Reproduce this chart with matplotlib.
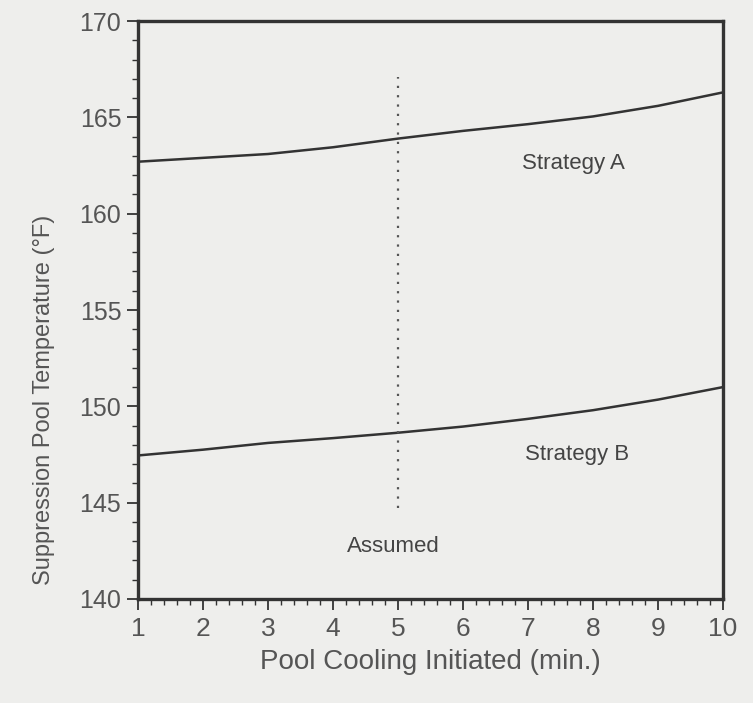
import matplotlib
matplotlib.use("Agg")
import matplotlib.pyplot as plt
from matplotlib.ticker import MultipleLocator

# Suppression pool temperature vs. time pool cooling is initiated
minutes = [1, 2, 3, 4, 5, 6, 7, 8, 9, 10]
strategy_a = [162.7, 162.9, 163.1, 163.45, 163.9, 164.3, 164.65, 165.05, 165.6, 166.3]
strategy_b = [147.45, 147.75, 148.1, 148.35, 148.63, 148.95, 149.35, 149.8, 150.35, 151.0]

assumed_time = 5
assumed_span = [144.7, 167.1]

x_ticks = [1, 2, 3, 4, 5, 6, 7, 8, 9, 10]
y_ticks = [140, 145, 150, 155, 160, 165, 170]

paper = "#eeeeec"
ink = "#333333"
label_grey = "#555555"

plt.rcParams["font.family"] = ["Liberation Sans", "DejaVu Sans"]

fig = plt.figure(figsize=(7.53, 7.03), dpi=100, facecolor=paper)
ax = fig.add_axes([0.1833, 0.148, 0.777, 0.822], facecolor=paper)

ax.plot(minutes, strategy_a, color=ink, lw=1.8)
ax.plot(minutes, strategy_b, color=ink, lw=1.8)
ax.plot([assumed_time, assumed_time], assumed_span, color="#555555",
        lw=1.6, linestyle=(0, (1, 3.2)))

ax.text(7.7, 162.6, "Strategy A", ha="center", va="center",
        fontsize=16, color="#444444")
ax.text(7.75, 147.5, "Strategy B", ha="center", va="center",
        fontsize=16, color="#444444")
ax.text(4.93, 142.7, "Assumed", ha="center", va="center",
        fontsize=16, color="#444444")

ax.set_xlim(1, 10)
ax.set_ylim(140, 170)
ax.set_xticks(x_ticks)
ax.set_yticks(y_ticks)
ax.xaxis.set_minor_locator(MultipleLocator(0.2))
ax.yaxis.set_minor_locator(MultipleLocator(1))

ax.tick_params(axis="both", which="major", direction="out", length=8,
               width=1.3, color=ink, labelcolor=label_grey, pad=4)
ax.tick_params(axis="y", which="major", labelsize=18)
ax.tick_params(axis="x", which="major", labelsize=19, pad=5)
ax.tick_params(axis="both", which="minor", direction="out", length=4,
               width=1.0, color=ink)

for side in ax.spines.values():
    side.set_linewidth(2.4)
    side.set_color(ink)

ax.set_xlabel("Pool Cooling Initiated (min.)", fontsize=20,
              color=label_grey, labelpad=6)
ax.set_ylabel("Suppression Pool Temperature (°F)", fontsize=17,
              color=label_grey)
ax.yaxis.set_label_coords(-0.142, 0.345)

fig.savefig("out.png", dpi=100, facecolor=paper)
